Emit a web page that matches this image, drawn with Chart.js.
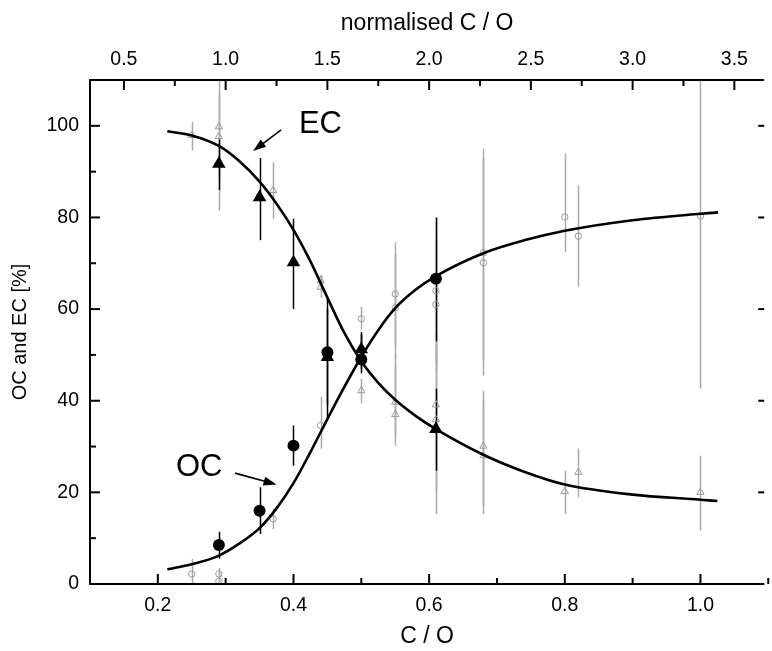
<!DOCTYPE html>
<html>
<head>
<meta charset="utf-8">
<script src="https://cdn.jsdelivr.net/npm/chart.js@4.4.1/dist/chart.umd.min.js"></script>
<style>
  body { margin: 0; background: #fff; }
  canvas { display: block; }
</style>
</head>
<body>
<canvas id="oc_ec_chart" width="772" height="651"></canvas>
<script>
// axis ranges and ticks
const x_min = 0.1
const x_max = 1.094
const norm_factor = 0.3
const x_ticks = [0.2, 0.4, 0.6, 0.8, 1.0]
const x_minor = [0.3, 0.5, 0.7, 0.9, 1.1]
const top_ticks = [0.5, 1.0, 1.5, 2.0, 2.5, 3.0, 3.5]
const top_minor = [0.75, 1.25, 1.75, 2.25, 2.75, 3.25]
const y_ticks = [0, 20, 40, 60, 80, 100]
const y_minor = [10, 30, 50, 70, 90]

// fitted curves
const oc_fit_x = [0.214, 0.25, 0.29, 0.32, 0.35, 0.375, 0.40, 0.425, 0.45, 0.475, 0.50, 0.525, 0.55, 0.58, 0.61, 0.68, 0.74, 0.80, 0.90, 1.00, 1.026]
const oc_fit = [3.2, 4.3, 6.2, 8.8, 12.2, 16.5, 22.0, 28.8, 36.0, 43.0, 49.6, 55.4, 60.2, 64.2, 67.2, 72.2, 75.0, 77.1, 79.4, 80.8, 81.1]
const ec_fit_x = [0.214, 0.25, 0.29, 0.32, 0.35, 0.375, 0.40, 0.425, 0.45, 0.475, 0.50, 0.525, 0.55, 0.58, 0.61, 0.68, 0.74, 0.80, 0.90, 1.00, 1.025]
const ec_fit = [98.8, 97.9, 95.6, 92.3, 87.8, 83.0, 77.3, 70.4, 62.5, 54.8, 48.6, 43.9, 40.2, 36.7, 33.8, 28.2, 24.5, 21.7, 19.5, 18.4, 18.1]

// averaged points (black)
const avg_x = [0.29, 0.35, 0.40, 0.45, 0.50, 0.61]
const avg_oc = [8.5, 16.0, 30.2, 50.6, 49.0, 66.6]
const avg_oc_lo = [5.5, 10.9, 25.8, 39.0, 46.0, 53.0]
const avg_oc_hi = [11.4, 21.1, 34.6, 62.6, 55.0, 80.0]
const avg_ec = [91.7, 84.4, 70.2, 49.5, 51.2, 33.8]
const avg_ec_lo = [86.0, 75.0, 60.0, 36.0, 47.0, 24.7]
const avg_ec_hi = [97.0, 93.0, 79.7, 60.0, 54.5, 42.6]

// single samples (grey)
const oc_x = [0.25, 0.29, 0.29, 0.37, 0.44, 0.50, 0.55, 0.55, 0.61, 0.61, 0.68, 0.68, 0.80, 0.82, 1.00]
const oc = [2.2, 2.2, 0.6, 14.2, 34.6, 57.9, 63.3, 60.3, 64.0, 61.0, 72.3, 70.1, 80.1, 75.9, 80.3]
const oc_lo = [0, 0, 0, 12.0, 29.5, 55.5, 52.0, 49.0, 48.0, 46.0, 49.0, 45.5, 72.5, 64.9, 42.6]
const oc_hi = [5.5, 3.5, 2.5, 16.5, 40.8, 60.5, 74.6, 72.0, 80.0, 76.0, 95.0, 93.0, 93.9, 87.0, 118]
const ec_x = [0.25, 0.29, 0.29, 0.37, 0.44, 0.44, 0.50, 0.55, 0.55, 0.61, 0.61, 0.68, 0.68, 0.80, 0.82, 1.00]
const ec = [97.9, 99.8, 97.7, 85.9, 66.2, 64.8, 42.2, 39.7, 37.0, 39.1, 35.9, 30.1, 28.0, 20.2, 24.4, 20.0]
const ec_lo = [94.6, 81.5, 88.0, 79.7, 63.7, 62.5, 39.5, 30.2, 32.0, 15.3, 20.0, 15.3, 17.0, 15.3, 18.9, 11.6]
const ec_hi = [100.9, 118, 107, 92.1, 67.5, 67.3, 44.8, 50.0, 48.0, 55.0, 52.0, 42.2, 40.0, 24.7, 29.5, 28.0]

// labels with arrows: text position, arrow start, arrow end
const notes = [
    {text: 'EC', at: [0.408, 100.4], from: [0.3817, 99.1], to: [0.3404, 94.5]},
    {text: 'OC', at: [0.2268, 25.4], from: [0.3138, 24.2], to: [0.3750, 21.7]}
]

const font_family = '"Liberation Sans", Arial, Helvetica, sans-serif'
const grey = '#9a9a9a'
const grey_bar = '#ababab'

const pts = (xs, ys) => xs.map((x, i) => ({x: x, y: ys[i]}))

const errorBars = {
    id: 'errorBars',
    beforeDatasetsDraw(chart) {
        const ctx = chart.ctx
        const area = chart.chartArea
        const xs = chart.scales.x, ys = chart.scales.y
        ctx.save()
        ctx.beginPath()
        ctx.rect(area.left, area.top, area.right - area.left, area.bottom - area.top)
        ctx.clip()
        chart.data.datasets.forEach(ds => {
            if (!ds.err_lo) return
            ctx.strokeStyle = ds.bar_color
            ctx.lineWidth = 1.5
            ds.data.forEach((p, i) => {
                const px = Math.round(xs.getPixelForValue(p.x)) + 0.5
                ctx.beginPath()
                ctx.moveTo(px, ys.getPixelForValue(ds.err_lo[i]))
                ctx.lineTo(px, ys.getPixelForValue(ds.err_hi[i]))
                ctx.stroke()
            })
        })
        ctx.restore()
    }
}

const frameTicks = {
    id: 'frameTicks',
    afterDraw(chart) {
        const ctx = chart.ctx
        const a = chart.chartArea
        const xs = chart.scales.x, x2 = chart.scales.x2, ys = chart.scales.y
        ctx.save()
        ctx.strokeStyle = '#000'
        ctx.lineWidth = 2
        const line = (x1, y1, x2_, y2_) => { ctx.beginPath(); ctx.moveTo(x1, y1); ctx.lineTo(x2_, y2_); ctx.stroke() }
        // frame: left, top, bottom (right edge falls outside the picture)
        line(a.left, a.top - 1, a.left, a.bottom + 1)
        line(a.left, a.top, a.right, a.top)
        line(a.left, a.bottom, a.right, a.bottom)
        x_ticks.forEach(v => { const p = xs.getPixelForValue(v); line(p, a.bottom, p, a.bottom - 10) })
        x_minor.forEach(v => { const p = xs.getPixelForValue(v); line(p, a.bottom, p, a.bottom - 6) })
        top_ticks.forEach(v => { const p = x2.getPixelForValue(v); line(p, a.top, p, a.top + 10) })
        top_minor.forEach(v => { const p = x2.getPixelForValue(v); line(p, a.top, p, a.top + 6) })
        y_ticks.forEach(v => {
            const p = ys.getPixelForValue(v)
            line(a.left, p, a.left + 10, p)
            line(a.right, p, a.right - 6, p)
        })
        y_minor.forEach(v => { const p = ys.getPixelForValue(v); line(a.left, p, a.left + 6, p) })
        ctx.restore()
    }
}

const arrowNotes = {
    id: 'arrowNotes',
    afterDatasetsDraw(chart) {
        const ctx = chart.ctx
        const xs = chart.scales.x, ys = chart.scales.y
        ctx.save()
        notes.forEach(n => {
            ctx.fillStyle = '#000'
            ctx.font = '31px ' + font_family
            ctx.textAlign = 'left'
            ctx.textBaseline = 'middle'
            ctx.fillText(n.text, xs.getPixelForValue(n.at[0]), ys.getPixelForValue(n.at[1]))
            const x0 = xs.getPixelForValue(n.from[0]), y0 = ys.getPixelForValue(n.from[1])
            const x1 = xs.getPixelForValue(n.to[0]), y1 = ys.getPixelForValue(n.to[1])
            const ang = Math.atan2(y1 - y0, x1 - x0)
            const hl = 13, hw = 4.5
            ctx.strokeStyle = '#000'
            ctx.lineWidth = 1.6
            ctx.beginPath()
            ctx.moveTo(x0, y0)
            ctx.lineTo(x1 - Math.cos(ang) * hl * 0.8, y1 - Math.sin(ang) * hl * 0.8)
            ctx.stroke()
            ctx.beginPath()
            ctx.moveTo(x1, y1)
            ctx.lineTo(x1 - Math.cos(ang) * hl - Math.sin(ang) * hw, y1 - Math.sin(ang) * hl + Math.cos(ang) * hw)
            ctx.lineTo(x1 - Math.cos(ang) * hl + Math.sin(ang) * hw, y1 - Math.sin(ang) * hl - Math.cos(ang) * hw)
            ctx.closePath()
            ctx.fill()
        })
        ctx.restore()
    }
}

const tick_font = {family: font_family, size: 19.5}
const title_font = {family: font_family, size: 23}

let oc_ec_document = document.getElementById('oc_ec_chart').getContext('2d')

let oc_ec_chart = new Chart(oc_ec_document, {
    type: 'scatter',
    data: {
        datasets: [
            {
                label: 'OC samples',
                data: pts(oc_x, oc),
                err_lo: oc_lo, err_hi: oc_hi, bar_color: grey_bar,
                pointStyle: 'circle', pointRadius: 3.2, borderWidth: 1,
                borderColor: grey, backgroundColor: 'rgba(0,0,0,0)',
                order: 6
            },
            {
                label: 'EC samples',
                data: pts(ec_x, ec),
                err_lo: ec_lo, err_hi: ec_hi, bar_color: grey_bar,
                pointStyle: 'triangle', pointRadius: 4.2, borderWidth: 1,
                borderColor: grey, backgroundColor: 'rgba(0,0,0,0)',
                order: 5
            },
            {
                label: 'OC fit',
                data: pts(oc_fit_x, oc_fit),
                showLine: true, pointRadius: 0, borderColor: '#000', borderWidth: 2.6,
                cubicInterpolationMode: 'monotone',
                order: 4
            },
            {
                label: 'EC fit',
                data: pts(ec_fit_x, ec_fit),
                showLine: true, pointRadius: 0, borderColor: '#000', borderWidth: 2.6,
                cubicInterpolationMode: 'monotone',
                order: 3
            },
            {
                label: 'EC mean',
                data: pts(avg_x, avg_ec),
                err_lo: avg_ec_lo, err_hi: avg_ec_hi, bar_color: '#000',
                pointStyle: 'triangle', pointRadius: 7.8, borderWidth: 0,
                backgroundColor: '#000', borderColor: '#000',
                order: 2
            },
            {
                label: 'OC mean',
                data: pts(avg_x, avg_oc),
                err_lo: avg_oc_lo, err_hi: avg_oc_hi, bar_color: '#000',
                pointStyle: 'circle', pointRadius: 6, borderWidth: 0,
                backgroundColor: '#000', borderColor: '#000',
                order: 1
            }
        ]
    },
    options: {
        responsive: false,
        animation: false,
        layout: {padding: 0},
        plugins: {legend: {display: false}, tooltip: {enabled: false}},
        scales: {
            x: {
                type: 'linear', position: 'bottom', min: x_min, max: x_max,
                afterBuildTicks: s => { s.ticks = x_ticks.map(v => ({value: v})) },
                afterFit: s => { s.height = 67 },
                ticks: {font: tick_font, color: '#000', padding: 10, maxRotation: 0, callback: v => v.toFixed(1)},
                grid: {display: false, drawTicks: false},
                border: {display: false},
                title: {display: true, text: 'C / O', font: title_font, color: '#000', padding: {top: 0, bottom: 1}}
            },
            x2: {
                type: 'linear', position: 'top', min: x_min / norm_factor, max: x_max / norm_factor,
                afterBuildTicks: s => { s.ticks = top_ticks.map(v => ({value: v})) },
                afterFit: s => { s.height = 80 },
                ticks: {font: tick_font, color: '#000', padding: 9, maxRotation: 0, callback: v => v.toFixed(1)},
                grid: {display: false, drawTicks: false},
                border: {display: false},
                title: {display: true, text: 'normalised C / O', font: title_font, color: '#000', padding: {top: 10, bottom: 0}}
            },
            y: {
                type: 'linear', position: 'left', min: 0, max: 110,
                afterBuildTicks: s => { s.ticks = y_ticks.map(v => ({value: v})) },
                afterFit: s => { s.width = 90 },
                ticks: {font: tick_font, color: '#000', padding: 11},
                grid: {display: false, drawTicks: false},
                border: {display: false},
                title: {display: true, text: 'OC and EC [%]', font: {family: font_family, size: 20}, color: '#000', padding: {top: 8, bottom: 0}}
            }
        }
    },
    plugins: [errorBars, frameTicks, arrowNotes]
})
</script>
</body>
</html>
